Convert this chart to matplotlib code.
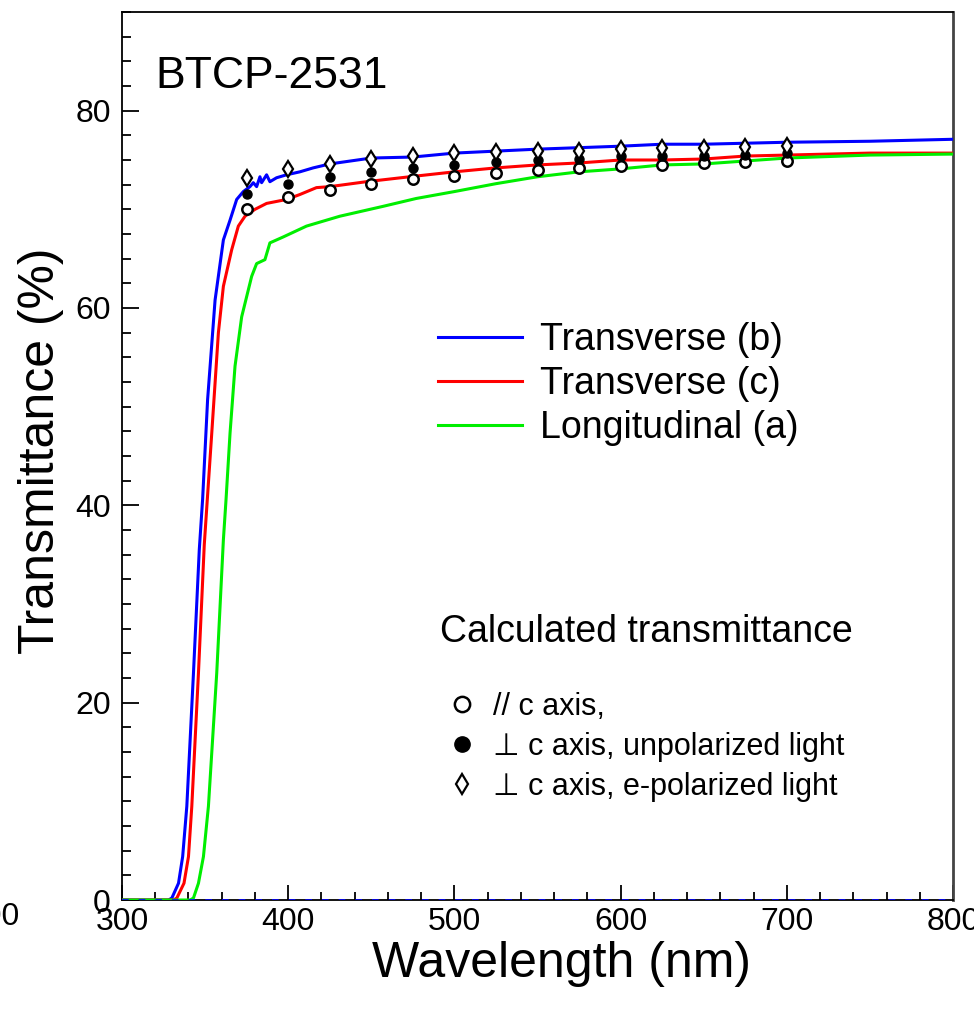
import matplotlib
matplotlib.use("Agg")
import matplotlib.pyplot as plt
from matplotlib.lines import Line2D
import numpy as np

plt.rcParams['font.family'] = ['Liberation Sans', 'DejaVu Sans']

# Measured curves (wavelength nm, transmittance %)
wl_b = [300, 328, 330, 334, 336.5, 339, 343, 346.5, 348.5, 351.5, 356, 361, 365, 369, 373, 377, 379, 381,
        383, 384, 387, 389, 393, 399, 407, 415, 425, 450, 475, 500, 550, 600, 625, 650, 700, 750, 800]
T_b = [0, 0, 0.2, 1.7, 4.4, 9.5, 23.0, 35.5, 40.6, 50.7, 60.8, 66.9, 68.9, 71.0, 71.8, 72.3, 72.7, 72.3,
       73.3, 72.7, 73.5, 72.8, 73.2, 73.5, 73.8, 74.2, 74.6, 75.2, 75.3, 75.7, 76.1, 76.4, 76.6, 76.6, 76.8, 76.9, 77.1]

wl_c = [300, 331, 333, 337.3, 340, 342, 346, 349.5, 354, 358, 361, 366, 370, 374, 380, 387, 399, 407, 417,
        425, 447, 473, 500, 525, 550, 575, 600, 625, 650, 675, 700, 750, 800]
T_c = [0, 0, 0.2, 1.7, 4.4, 9.5, 23.0, 36.0, 47.3, 57.5, 62.2, 65.9, 68.3, 69.3, 70.0, 70.6, 71.0, 71.5, 72.2,
       72.3, 72.8, 73.3, 73.8, 74.2, 74.5, 74.7, 75.0, 75.0, 75.1, 75.4, 75.5, 75.7, 75.7]

wl_a = [300, 341, 343, 346, 349, 352, 357, 361, 362.6, 365, 368, 372, 378, 381, 386, 389, 397, 411, 431,
        457, 477, 500, 525, 550, 575, 600, 625, 650, 675, 700, 750, 800]
T_a = [0, 0, 0.2, 1.7, 4.4, 9.5, 23.0, 36.5, 40.6, 47.3, 54.1, 59.1, 63.2, 64.5, 64.9, 66.6, 67.2, 68.3, 69.3,
       70.3, 71.1, 71.8, 72.6, 73.3, 73.8, 74.1, 74.5, 74.6, 74.9, 75.2, 75.5, 75.6]

# Calculated transmittance
wl_calc = [375, 400, 425, 450, 475, 500, 525, 550, 575, 600, 625, 650, 675, 700]
T_par = [70.0, 71.2, 72.0, 72.6, 73.1, 73.4, 73.7, 74.0, 74.2, 74.4, 74.5, 74.7, 74.8, 74.9]
T_perp_unpol = [71.6, 72.6, 73.3, 73.8, 74.2, 74.5, 74.8, 75.0, 75.1, 75.4, 75.4, 75.4, 75.5, 75.7]
T_perp_epol = [73.2, 74.1, 74.6, 75.1, 75.4, 75.7, 75.8, 75.9, 75.9, 76.1, 76.2, 76.2, 76.3, 76.4]

W, H = 974, 1009
fig = plt.figure(figsize=(W / 100, H / 100), dpi=100)
ax = fig.add_axes([122 / W, 1 - 900 / H, (953 - 122) / W, (900 - 12) / H])

ax.axhline(0, color='blue', lw=1.2, ls=(0, (4, 6)), zorder=4)
lb, = ax.plot(wl_b, T_b, color='#0000ff', lw=2.2, label='Transverse (b)', zorder=3)
lc, = ax.plot(wl_c, T_c, color='#ff0000', lw=2.2, label='Transverse (c)', zorder=3)
la, = ax.plot(wl_a, T_a, color='#00ee00', lw=2.2, label='Longitudinal (a)', zorder=3)

ax.plot(wl_calc, T_par, 'o', ms=7.5, mfc='white', mec='black', mew=1.8, zorder=5)
ax.plot(wl_calc, T_perp_unpol, 'o', ms=6.5, color='black', zorder=5)
ax.plot(wl_calc, T_perp_epol, 'd', ms=8, mfc='white', mec='black', mew=1.6, zorder=5)

ax.set_xlim(300, 800)
ax.set_ylim(0, 90)
ax.set_xticks(np.arange(300, 801, 100))
ax.set_xticks(np.arange(300, 801, 20), minor=True)
ax.set_yticks(np.arange(0, 81, 20))
ax.set_yticks(np.arange(0, 90.1, 2.5), minor=True)
ax.tick_params(axis='both', which='both', direction='in', labelsize=23, width=1.3, top=False, right=False)
ax.tick_params(axis='x', which='major', length=11, pad=5)
ax.tick_params(axis='x', which='minor', length=5.5)
ax.tick_params(axis='y', which='major', length=12, pad=8)
ax.tick_params(axis='y', which='minor', length=6.5)
for s in ['left', 'top', 'bottom']:
    ax.spines[s].set_linewidth(1.3)
ax.spines['right'].set_linewidth(2)
ax.spines['right'].set_color('#444444')

ax.set_xlabel('Wavelength (nm)', fontsize=36)
ax.xaxis.set_label_coords((561 - 122) / 831, (900 - 941) / 888)
ax.set_ylabel('Transmittance (%)', fontsize=36)
ax.yaxis.set_label_coords((64 - 122) / 831, (900 - 451) / 888)

ax.text((155 - 122) / 831, (900 - 77) / 888, 'BTCP-2531', fontsize=32, va='center', ha='left',
        transform=ax.transAxes)

leg1 = ax.legend(handles=[lb, lc, la], loc='upper left', bbox_to_anchor=(438 / W, 1 - 322 / H),
                 bbox_transform=fig.transFigure, frameon=False, fontsize=27, handlelength=2.24,
                 handletextpad=0.48, labelspacing=0.21, borderpad=0, borderaxespad=0)
ax.add_artist(leg1)

ax.text((440 - 122) / 831, (900 - 632) / 888, 'Calculated transmittance', fontsize=27, va='center',
        ha='left', transform=ax.transAxes)
h1 = Line2D([], [], ls='none', marker='o', ms=11, mfc='white', mec='black', mew=1.8)
h2 = Line2D([], [], ls='none', marker='o', ms=11, color='black')
h3 = Line2D([], [], ls='none', marker='d', ms=10, mfc='white', mec='black', mew=1.6)
ax.legend(handles=[h1, h2, h3],
          labels=['// c axis,', '\u22a5 c axis, unpolarized light', '\u22a5 c axis, e-polarized light'],
          loc='upper left', bbox_to_anchor=(440 / W, 1 - 692 / H), bbox_transform=fig.transFigure,
          frameon=False, fontsize=22, handlelength=1.44, handletextpad=0.3, labelspacing=0.32,
          borderpad=0, borderaxespad=0)

# clipped tick label from the neighbouring panel
fig.text(20 / W, 1 - 917 / H, '800', fontsize=23, ha='right', va='center')

fig.savefig('out.png', dpi=100)
